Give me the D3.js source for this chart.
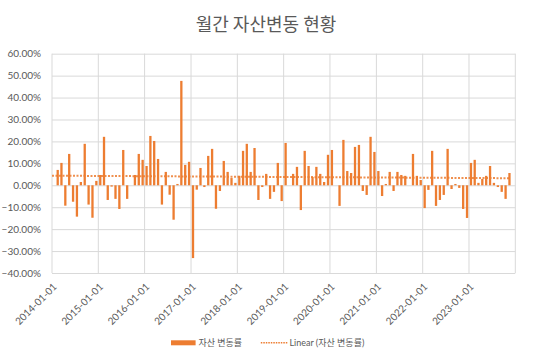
<!DOCTYPE html>
<html>
<head>
<meta charset="utf-8">
<script src="https://cdn.jsdelivr.net/npm/d3@7"></script>
<style>
  html, body { margin: 0; padding: 0; background: #fff; }
  svg { display: block; }
</style>
</head>
<body>
<svg id="chart" width="533" height="355"></svg>
<script>
// ---------- data ----------
const title = "월간 자산변동 현황";
const seriesName = "자산 변동률";
const trendName = "Linear (자산 변동률)";
const firstMonth = "2014-02-01";   // first bar's month
// monthly change (%), Feb 2014 .. Nov 2023
const values = [
  7.0, 10.2, -9.3, 14.3, -7.5, -14.3, 1.5, 18.9, -8.8, -14.8, 2.0,
  4.7, 22.1, -6.7, -0.6, -6.2, -10.8, 16.1, -6.2, 0.0, 4.7, 14.3, 11.6,
  8.8, 22.5, 20.2, 12.0, -8.8, 6.1, -4.3, -15.7, 0.6, 47.6, 9.3, 10.7,
  -33.2, -2.0, 7.9, -0.8, 13.4, 16.6, -10.7, -2.6, 11.1, 6.1, 3.3, 1.1,
  4.3, 15.7, 18.9, 6.1, 17.0, -6.7, -0.8, 5.2, -6.2, -3.0, 10.2, -7.2,
  19.3, 0.0, 5.2, 8.4, -11.3, 15.7, 8.8, 3.8, 8.4, 5.2, 1.5, 13.9,
  16.1, 0.0, -9.4, 20.7, 6.5, 5.6, 17.5, 18.4, -2.6, -4.4, 22.1, 15.2,
  6.5, -4.9, 0.6, 6.1, -2.6, 6.1, 4.7, 4.3, 0.0, 14.3, 4.3, 2.4,
  -10.4, -2.1, 15.7, -9.4, -6.7, -4.4, 16.6, -1.7, 0.6, -1.2, -10.8, -14.9,
  10.2, 11.6, 1.1, 2.9, 4.3, 8.8, 1.1, -0.8, -3.0, -6.2, 5.6
];
const xTickLabels = ["2014-01-01","2015-01-01","2016-01-01","2017-01-01","2018-01-01",
  "2019-01-01","2020-01-01","2021-01-01","2022-01-01","2023-01-01"];
const xDomain = ["2014-01-01", "2024-01-01"];
const yTicks = [-0.4, -0.3, -0.2, -0.1, 0, 0.1, 0.2, 0.3, 0.4, 0.5, 0.6];

// ---------- setup ----------
const parse = d3.utcParse("%Y-%m-%d");
const start = parse(firstMonth);
const data = values.map((v, i) => ({ date: d3.utcMonth.offset(start, i), value: v / 100 }));

const svg = d3.select("#chart");
const W = 533, H = 355;
const plot = { left: 52, right: 515.3, top: 53.7, bottom: 273 };

const x = d3.scaleUtc().domain(xDomain.map(parse)).range([plot.left, plot.right]);
const y = d3.scaleLinear().domain([-0.4, 0.6]).range([plot.bottom, plot.top]);

const textColor = "#595959";
const gridColor = "#d9d9d9";
const barColor = "#ED7D31";
const latin = "Lato, 'Noto Sans CJK KR', sans-serif";
const kr = "'Noto Sans CJK KR', 'Noto Sans', sans-serif";

svg.append("rect").attr("width", W).attr("height", H).attr("fill", "#fff");

// title
svg.append("text")
  .attr("x", 266).attr("y", 31)
  .attr("text-anchor", "middle")
  .attr("font-family", kr).attr("font-size", 18)
  .attr("fill", textColor)
  .text(title);

// horizontal grid
const yAxis = d3.axisLeft(y).tickValues(yTicks).tickSize(-(plot.right - plot.left)).tickPadding(11)
  .tickFormat(d3.format(".2%"));
const gy = svg.append("g").attr("transform", `translate(${plot.left},0)`).call(yAxis);
gy.select(".domain").remove();
gy.selectAll(".tick line").attr("stroke", gridColor).attr("stroke-width", 1);
gy.selectAll(".tick text").attr("fill", textColor).attr("font-family", latin).attr("font-size", 10);

// vertical grid (yearly)
const yearTicks = d3.utcYear.range(x.domain()[0], d3.utcYear.offset(x.domain()[1], 1));
svg.append("g").selectAll("line").data(yearTicks).join("line")
  .attr("x1", d => x(d)).attr("x2", d => x(d))
  .attr("y1", plot.top).attr("y2", plot.bottom)
  .attr("stroke", gridColor).attr("stroke-width", 1);

// x tick labels
svg.append("g").selectAll("text").data(xTickLabels).join("text")
  .attr("transform", d => `translate(${x(parse(d)) + 3},${285}) rotate(-45)`)
  .attr("text-anchor", "end").attr("dy", "0.35em")
  .attr("font-family", latin).attr("font-size", 10)
  .attr("fill", textColor)
  .text(d => d);

// bars
const center = d => (x(d) + x(d3.utcMonth.offset(d, 1))) / 2;
const barW = 2.3;
svg.append("g").selectAll("rect").data(data).join("rect")
  .attr("x", d => center(d.date) - barW / 2)
  .attr("width", barW)
  .attr("y", d => y(Math.max(0, d.value)))
  .attr("height", d => Math.abs(y(d.value) - y(0)))
  .attr("fill", barColor);

// linear trend (least squares on time)
const xs = data.map(d => +d.date), ys = data.map(d => d.value);
const mx = d3.mean(xs), my = d3.mean(ys);
const slope = d3.sum(xs.map((v, i) => (v - mx) * (ys[i] - my))) / d3.sum(xs.map(v => (v - mx) ** 2));
const icpt = my - slope * mx;
const tStart = +x.domain()[0], tEnd = +d3.utcMonth.offset(data[data.length - 1].date, 0) + 15 * 864e5;
svg.append("line")
  .attr("x1", x(tStart)).attr("y1", y(icpt + slope * tStart))
  .attr("x2", x(tEnd)).attr("y2", y(icpt + slope * tEnd))
  .attr("stroke", barColor).attr("stroke-width", 2)
  .attr("stroke-dasharray", "2 1.5").attr("opacity", 0.85);

// legend
const lg = svg.append("g");
lg.append("rect").attr("x", 171).attr("y", 340.3).attr("width", 24.6).attr("height", 5).attr("fill", barColor);
lg.append("text").attr("x", 198.6).attr("y", 342.8).attr("dy", "0.35em")
  .attr("font-family", kr).attr("font-size", 9).attr("fill", textColor).text(seriesName);
lg.append("line").attr("x1", 260.8).attr("x2", 287.3).attr("y1", 342.8).attr("y2", 342.8)
  .attr("stroke", barColor).attr("stroke-width", 1.5).attr("stroke-dasharray", "1.5 1");
lg.append("text").attr("x", 289.4).attr("y", 342.8).attr("dy", "0.35em")
  .attr("font-family", latin).attr("font-size", 9).attr("fill", textColor).text(trendName);
</script>
</body>
</html>
